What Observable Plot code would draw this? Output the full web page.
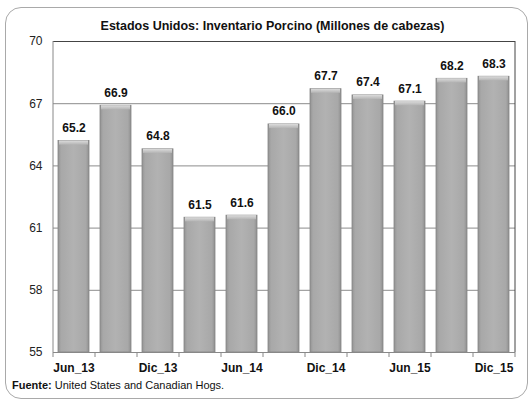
<!DOCTYPE html>
<html>
<head>
<meta charset="utf-8">
<script src="https://cdn.jsdelivr.net/npm/d3@7"></script>
<script src="https://cdn.jsdelivr.net/npm/@observablehq/plot@0.6"></script>
<style>
  html, body { margin: 0; padding: 0; background: #fff; }
  body { width: 532px; height: 404px; overflow: hidden; position: relative; font-family: "Liberation Sans", Arial, sans-serif; }
  #frame { position: absolute; left: 5px; top: 7px; width: 523px; height: 392px; border: 1px solid #a9a9a9; border-radius: 16px; box-sizing: border-box; }
  #topword { position: absolute; left: 0; width: 532px; top: -17px; text-align: center; font-size: 18px; font-weight: bold; color: #666; }
  #title { position: absolute; left: 0; width: 545px; top: 19px; text-align: center; font-size: 12.5px; font-weight: bold; color: #111; }
  #chart { position: absolute; left: 0; top: 0; }
  #caption { position: absolute; left: 12px; top: 379px; font-size: 11px; color: #111; }
</style>
</head>
<body>
<div id="frame"></div>
<div id="topword">Gráfico</div>
<div id="chart"></div>
<div id="title">Estados Unidos: Inventario Porcino (Millones de cabezas)</div>
<div id="caption"><b>Fuente:</b> United States and Canadian Hogs.</div>
<script>
const categories = ["Jun_13","Sep_13","Dic_13","Mar_14","Jun_14","Sep_14","Dic_14","Mar_15","Jun_15","Sep_15","Dic_15"];
const values = [65.2, 66.9, 64.8, 61.5, 61.6, 66.0, 67.7, 67.4, 67.1, 68.2, 68.3];
const shownLabels = ["Jun_13","Dic_13","Jun_14","Dic_14","Jun_15","Dic_15"];
const yTicks = [55, 58, 61, 64, 67, 70];

const data = categories.map((c, i) => ({cat: c, value: values[i]}));

const chart = Plot.plot({
  width: 532,
  height: 380,
  marginTop: 41,
  marginBottom: 28,
  marginLeft: 53,
  marginRight: 17,
  style: {fontFamily: "Liberation Sans, Arial, sans-serif", fontSize: "12px", color: "#111", background: "transparent"},
  x: {domain: categories, paddingInner: 0.26, paddingOuter: 0.13, axis: null},
  y: {domain: [55, 70], axis: null},
  marks: [
    Plot.ruleY(yTicks.filter(t => t > 55 && t < 70), {stroke: "#8c8c8c", strokeWidth: 1}),
    Plot.barY(data, {x: "cat", y1: 55, y2: "value", fill: "url(#barGrad)", stroke: "#858585", strokeWidth: 0.8}),
    Plot.barY(data, {x: "cat", y1: d => d.value - 0.2, y2: "value", fill: "url(#topGrad)", stroke: "none", insetLeft: 1, insetRight: 1}),
    Plot.text(data, {x: "cat", y: "value", text: d => d.value.toFixed(1), lineAnchor: "bottom", dy: -9, fontWeight: "bold", fontSize: 12, fill: "#111"}),
    Plot.ruleY([70], {stroke: "#444", strokeWidth: 1}),
    Plot.ruleX([categories[categories.length - 1]], {dx: 21, y1: 55, y2: 70, stroke: "#444", strokeWidth: 1}),
    Plot.ruleX([categories[0]], {dx: -21, y1: 55, y2: 70, stroke: "#888", strokeWidth: 1}),
    Plot.ruleY([55], {stroke: "#888", strokeWidth: 1}),
    Plot.ruleX(categories, {dx: -21, y1: 55, y2: 55, insetBottom: -5, stroke: "#888", strokeWidth: 1}),
    Plot.ruleX([categories[categories.length - 1]], {dx: 21, y1: 55, y2: 55, insetBottom: -5, stroke: "#888", strokeWidth: 1}),
    Plot.axisY(yTicks, {tickSize: 0, tickPadding: 11, fontSize: 12, fill: "#222", label: null}),
    Plot.axisX(shownLabels, {tickSize: 0, tickPadding: 11, fontSize: 12, fontWeight: "bold", fill: "#111", label: null})
  ]
});

const ns = "http://www.w3.org/2000/svg";
const defs = document.createElementNS(ns, "defs");
defs.innerHTML = `
  <linearGradient id="barGrad" x1="0" x2="1" y1="0" y2="0">
    <stop offset="0" stop-color="#939393"/>
    <stop offset="0.1" stop-color="#a8a8a8"/>
    <stop offset="0.5" stop-color="#b2b2b2"/>
    <stop offset="0.9" stop-color="#a8a8a8"/>
    <stop offset="1" stop-color="#8f8f8f"/>
  </linearGradient>
  <linearGradient id="topGrad" x1="0" x2="0" y1="0" y2="1">
    <stop offset="0" stop-color="#dcdcdc"/>
    <stop offset="1" stop-color="#b4b4b4"/>
  </linearGradient>`;
chart.insertBefore(defs, chart.firstChild);
document.getElementById("chart").appendChild(chart);
</script>
</body>
</html>
